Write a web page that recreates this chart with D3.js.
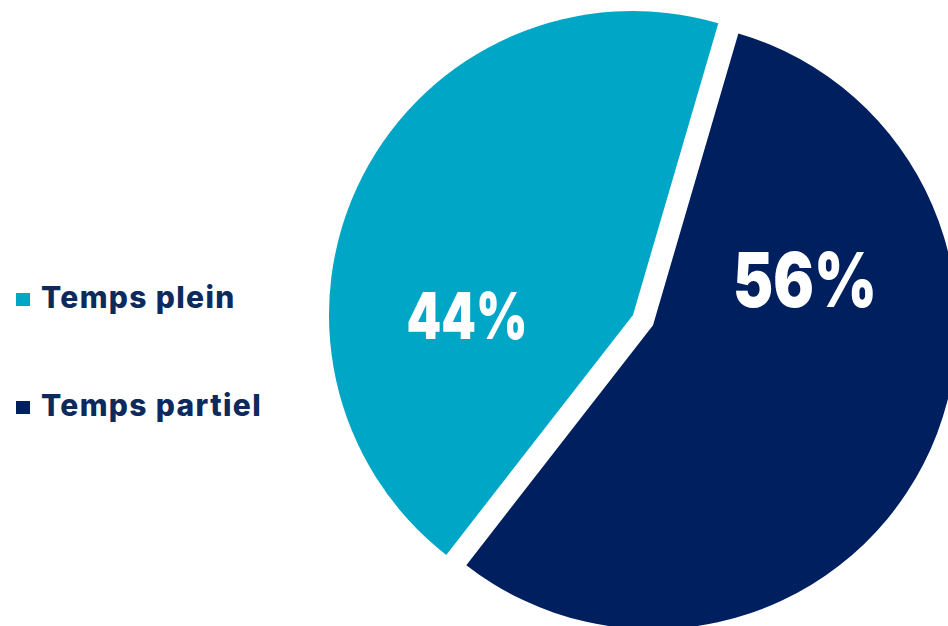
<!DOCTYPE html>
<html><head><meta charset="utf-8">
<script src="https://cdn.jsdelivr.net/npm/d3@7"></script>
<style>body{margin:0;background:#fff}svg{display:block}</style>
</head><body>
<svg id="c" width="948" height="626"></svg>
<script>
const categories = ["Temps partiel", "Temps plein"];
const values = [56, 44];
const labels = ["56%", "44%"];
const legendOrder = ["Temps plein", "Temps partiel"];
const colors = {"Temps plein": "#00A6C6", "Temps partiel": "#001F5F"};

const svg = d3.select("#c");
const data = categories.map((c, i) => ({cat: c, value: values[i], label: labels[i]}));
const deg = Math.PI / 180;
const pie = d3.pie().value(d => d.value).sort(null).startAngle(16.3 * deg).endAngle(376.3 * deg);
const arcs = pie(data);
const R = 304;
const arc = d3.arc().innerRadius(0).outerRadius(R);
const cx = 633, cy = 315;
const explode = {"Temps partiel": 22.5, "Temps plein": 0};
const labelPos = {"Temps partiel": [805, 307, 75, 144], "Temps plein": [467, 339, 64, 121]};
const font = "Inter, 'Noto Sans', sans-serif";

arcs.forEach(a => {
  const mid = (a.startAngle + a.endAngle) / 2;
  const off = explode[a.data.cat];
  const dx = Math.sin(mid) * off, dy = -Math.cos(mid) * off;
  const g = svg.append("g").attr("transform", `translate(${cx + dx},${cy + dy})`);
  g.append("path").attr("d", arc(a)).attr("fill", colors[a.data.cat]);
});
arcs.forEach(a => {
  const p = labelPos[a.data.cat];
  svg.append("text").attr("x", p[0] - p[3] / 2).attr("y", p[1])
    .attr("textLength", p[3]).attr("lengthAdjust", "spacingAndGlyphs")
    .attr("font-family", font).attr("font-weight", 900).attr("font-size", p[2])
    .attr("fill", "#fff").text(a.data.label);
});
const leg = svg.append("g");
legendOrder.forEach((c, i) => {
  const y = 308 + i * 108;
  leg.append("rect").attr("x", 16).attr("y", y - 15).attr("width", 14).attr("height", 13).attr("fill", colors[c]);
  leg.append("text").attr("x", 41).attr("y", y).attr("font-family", font).attr("font-weight", 800)
    .attr("font-size", 30).attr("letter-spacing", 1.35).attr("fill", "#0D2A5C").text(c);
});
</script>
</body></html>
